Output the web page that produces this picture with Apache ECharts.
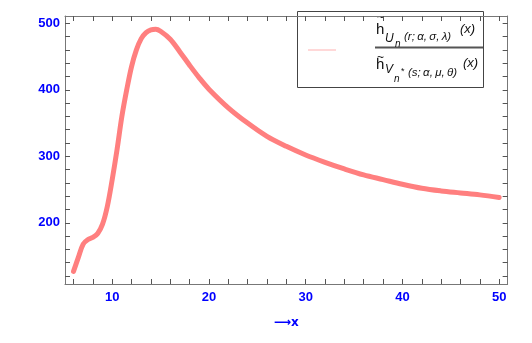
<!DOCTYPE html>
<html>
<head>
<meta charset="utf-8">
<script src="https://cdn.jsdelivr.net/npm/echarts@6/dist/echarts.min.js"></script>
<style>
html,body{margin:0;padding:0;background:#fff;}
#main{width:532px;height:343px;}
</style>
</head>
<body>
<div id="main"></div>
<script>
var dom = document.getElementById("main");
var myChart = echarts.init(dom);

// curve
var xValues = [6, 6.5, 7, 7.5, 8, 8.5, 9, 9.5, 10, 10.5, 11, 11.5, 12, 12.5, 13, 13.5, 14, 14.5, 15,
    16, 17, 18, 19, 20, 22, 24, 26, 28, 30, 32, 34, 36, 38, 40, 42, 44, 46, 48, 50];
var yValues = [127, 148, 168, 175, 178, 184, 198, 225, 265, 310, 360, 400, 435, 460, 477, 486, 490, 491, 488,
    476, 457, 437, 418, 401, 373, 350, 330, 315, 302, 291, 281, 272, 265, 258, 252, 248, 245, 242, 238];

var xLabels = [10, 20, 30, 40, 50];
var xTicks = [6, 8, 10, 12, 14, 16, 18, 20, 22, 24, 26, 28, 30, 32, 34, 36, 38, 40, 42, 44, 46, 48, 50];
var yLabels = [200, 300, 400, 500];
var yTicks = [120, 140, 160, 180, 200, 220, 240, 260, 280, 300, 320, 340, 360, 380, 400, 420, 440, 460, 480, 500];

var xMin = 5.12, xMax = 50.88;
var yMin = 108, yMax = 511;

var data = xValues.map(function (x, i) {
    return [x, yValues[i]];
});

var frameColor = '#777';
var tickColor = '#555';
var labelStyle = {
    color: '#0000ff',
    fontFamily: 'Liberation Sans',
    fontWeight: 'bold',
    fontSize: 13
};

// one axis per side, the four of them make the frame
function makeAxis(dim, pos, withLabel) {
    var ticks = dim === 'x' ? xTicks : yTicks;
    var ax = {
        type: 'value', position: pos,
        min: dim === 'x' ? xMin : yMin,
        max: dim === 'x' ? xMax : yMax,
        axisLine: {show: true, lineStyle: {color: frameColor, width: 1}},
        splitLine: {show: false},
        axisTick: {show: true, inside: true, length: 5, customValues: ticks,
            lineStyle: {color: tickColor, width: 1}},
        // labels kept on (transparent) so the ticks get built
        axisLabel: {show: true, customValues: ticks, color: 'rgba(0,0,0,0)', fontSize: 8}
    };
    if (withLabel) {
        ax.axisLabel = Object.assign({
            show: true,
            customValues: dim === 'x' ? xLabels : yLabels,
            margin: dim === 'x' ? 7 : 5
        }, labelStyle);
    }
    return ax;
}

var xBottom = makeAxis('x', 'bottom', true);
xBottom.name = '\u27F6x';
xBottom.nameLocation = 'middle';
xBottom.nameGap = 33;
xBottom.nameTextStyle = {color: '#0000ff', fontFamily: 'DejaVu Sans', fontWeight: 'bold', fontSize: 12};

function t(x, y, str, size, italic) {
    return {
        type: 'text', x: x, y: y,
        style: {text: str, fontFamily: 'Liberation Sans', fontStyle: italic ? 'italic' : 'normal',
            fontSize: size, fill: '#111', verticalAlign: 'middle', align: 'left'}
    };
}

option = {
    animation: false,
    grid: {left: 65, right: 21, top: 8, bottom: 59},
    xAxis: [xBottom, makeAxis('x', 'top', false)],
    yAxis: [makeAxis('y', 'left', true), makeAxis('y', 'right', false)],
    series: [{
        type: 'line',
        xAxisIndex: 0,
        yAxisIndex: 0,
        data: data,
        smooth: 0.35,
        showSymbol: false,
        lineStyle: {color: '#ff7f7f', width: 5, cap: 'round', join: 'round'}
    }],
    graphic: [
        {type: 'rect', shape: {x: 297.5, y: 11.5, width: 186, height: 76},
            style: {fill: '#fff', stroke: '#444', lineWidth: 1}},
        {type: 'line', shape: {x1: 308, y1: 50, x2: 336, y2: 50},
            style: {stroke: '#ffd8d8', lineWidth: 2}},
        {type: 'rect', shape: {x: 375, y: 46.5, width: 108, height: 2}, style: {fill: '#555'}},
        // numerator
        t(377, 18, '~', 12, false),
        t(376, 30, 'h', 15, false),
        t(385, 39, 'U', 12, true),
        t(395, 44, 'n', 10, true),
        t(404, 37, '(r;\u2009\u03B1,\u2009\u03C3,\u2009\u03BB)', 11.5, true),
        t(460, 29, '(x)', 13, true),
        // denominator
        t(377, 58, '~', 12, false),
        t(376, 65, 'h', 15, false),
        t(385, 70, 'V', 12, true),
        t(394, 79, 'n', 10, true),
        t(401, 72, '*', 9, false),
        t(408, 73, '(s;\u2009\u03B1,\u2009\u03BC,\u2009\u03B8)', 11.5, true),
        t(463, 63, '(x)', 13, true)
    ]
};

if (option && typeof option === "object") {
    myChart.setOption(option, true);
}
</script>
</body>
</html>
